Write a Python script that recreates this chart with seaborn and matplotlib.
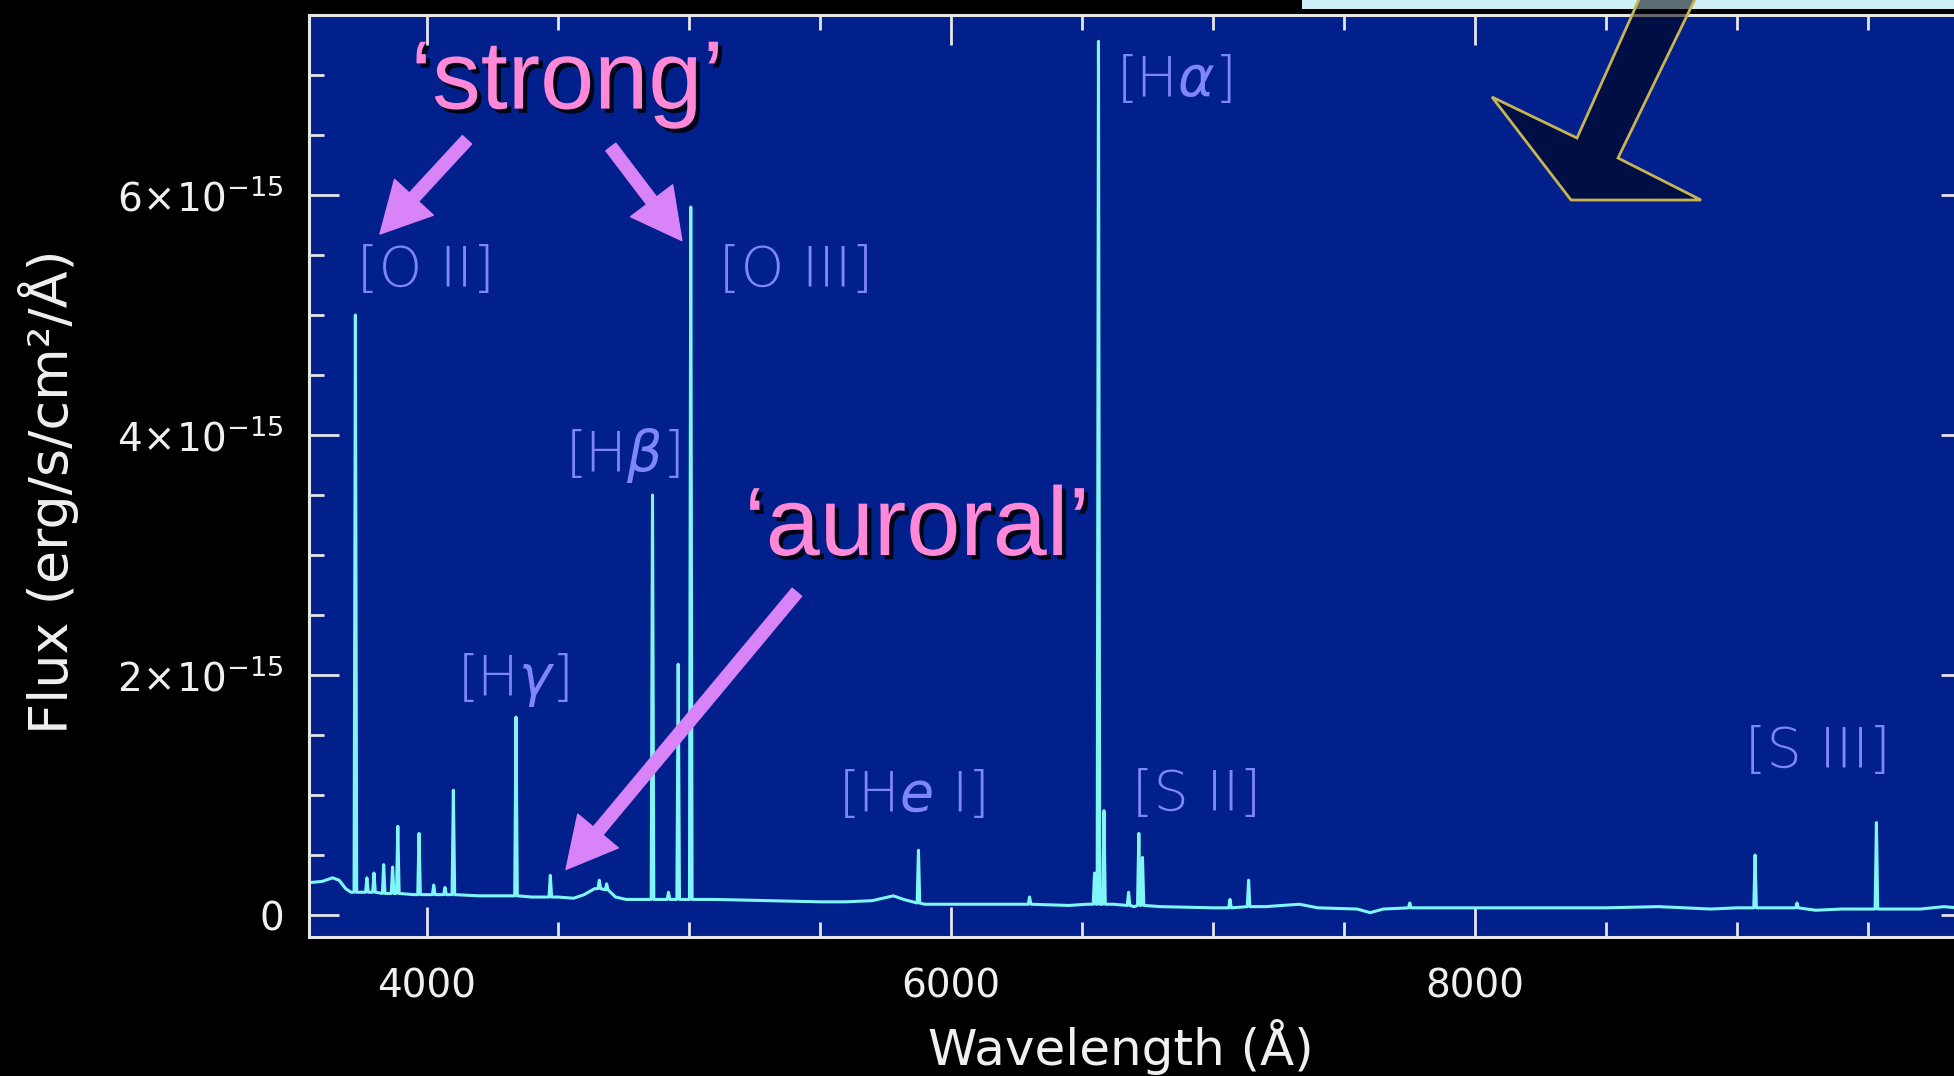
import matplotlib
matplotlib.use("Agg")
import matplotlib.pyplot as plt
import matplotlib.patheffects as pe
from matplotlib.patches import Polygon, Rectangle
from matplotlib.ticker import MultipleLocator, FixedLocator, FixedFormatter
import pandas as pd
import seaborn as sns

# ---------------- data (flux in units of 1e-15 erg/s/cm2/Å) ----------------
cont_wave = [3550, 3600, 3640, 3665, 3690, 3710, 3760, 3850, 3950, 4050, 4200, 4300,
             4400, 4500, 4560, 4600, 4640, 4680, 4720, 4760, 4850, 4950, 5100, 5300,
             5500, 5600, 5700, 5780, 5820, 5900, 6000, 6200, 6450, 6520, 6620, 6700,
             6800, 7000, 7200, 7330, 7400, 7550, 7600, 7650, 7900, 8200, 8500, 8700,
             8900, 9000, 9150, 9300, 9400, 9700, 9790, 9893]
cont_flux = [0.27, 0.28, 0.31, 0.29, 0.22, 0.19, 0.19, 0.18, 0.17, 0.17, 0.16, 0.16,
             0.15, 0.15, 0.14, 0.17, 0.22, 0.21, 0.15, 0.13, 0.13, 0.13, 0.13, 0.12,
             0.11, 0.11, 0.12, 0.16, 0.13, 0.09, 0.09, 0.09, 0.08, 0.09, 0.09, 0.07,
             0.07, 0.06, 0.07, 0.09, 0.06, 0.05, 0.02, 0.05, 0.06, 0.06, 0.06, 0.07,
             0.05, 0.06, 0.06, 0.04, 0.05, 0.05, 0.07, 0.05]

line_wave = [3727, 3771, 3798, 3835, 3869, 3889, 3970, 4026, 4069, 4101, 4340, 4471,
             4658, 4686, 4861, 4922, 4959, 5007, 5876, 6300, 6548, 6563, 6584, 6678,
             6717, 6731, 7065, 7136, 7751, 9069, 9229, 9532]
line_peak = [5.00, 0.31, 0.35, 0.42, 0.40, 0.74, 0.68, 0.25, 0.23, 1.04, 1.65, 0.33,
             0.29, 0.26, 3.50, 0.19, 2.09, 5.90, 0.54, 0.15, 0.35, 7.28, 0.87, 0.19,
             0.68, 0.48, 0.13, 0.29, 0.10, 0.50, 0.10, 0.77]
line_base = [0.19, 0.19, 0.19, 0.18, 0.18, 0.18, 0.17, 0.17, 0.17, 0.17, 0.16, 0.15,
             0.22, 0.21, 0.13, 0.13, 0.13, 0.13, 0.10, 0.09, 0.09, 0.09, 0.09, 0.08,
             0.08, 0.08, 0.06, 0.07, 0.06, 0.06, 0.06, 0.05]

label_text = ["[O II]", "[O III]", r"[H$\beta$]", r"[H$\gamma$]", r"[H$e$ I]",
              "[S II]", "[S III]", r"[H$\alpha$]"]
label_wave = [3996, 5408, 4744, 4328, 5851, 6939, 9309, 6851]
label_flux = [5.37, 5.37, 3.83, 1.96, 0.99, 1.00, 1.36, 6.95]

xtick_vals = [4000, 6000, 8000]
ytick_vals = [0, 2, 4, 6]
ytick_labels = ["0", r"$2\!\times\!10^{-15}$", r"$4\!\times\!10^{-15}$", r"$6\!\times\!10^{-15}$"]

HW = 5  # half width (Å) of each drawn emission spike

rows_w = list(cont_wave)
rows_f = list(cont_flux)
for w, p, b in zip(line_wave, line_peak, line_base):
    rows_w += [w - HW, w, w + HW]
    rows_f += [b, p, b]
spec = pd.DataFrame({"wavelength": rows_w, "flux": rows_f}).sort_values("wavelength")

# ---------------- style ----------------
sns.set_theme(style="ticks")
plt.rcParams["font.family"] = ["DejaVu Sans"]
plt.rcParams["mathtext.fontset"] = "dejavusans"

W, H = 1954, 1076
fig = plt.figure(figsize=(W / 100, H / 100), dpi=100, facecolor="black")
ax = fig.add_axes([309 / W, (H - 937) / H, (1971 - 309) / W, (937 - 15) / H])
ax.set_facecolor("#01208C")

sns.lineplot(data=spec, x="wavelength", y="flux", ax=ax, color="#80F6F6",
             linewidth=2.2, estimator=None, sort=True)

ax.set_xlim(3550, 9893)
ax.set_ylim(-0.183, 7.5)

ax.xaxis.set_major_locator(FixedLocator(xtick_vals))
ax.xaxis.set_minor_locator(MultipleLocator(500))
ax.yaxis.set_major_locator(FixedLocator(ytick_vals))
ax.yaxis.set_major_formatter(FixedFormatter(ytick_labels))
ax.yaxis.set_minor_locator(MultipleLocator(0.5))

tick_col = "#E6E6E6"
ax.tick_params(which="major", direction="in", length=21.6, width=2.0, color=tick_col,
               top=True, right=True, labelsize=28, labelcolor="#F0F0F0")
ax.tick_params(which="minor", direction="in", length=10.8, width=2.0, color=tick_col,
               top=True, right=True)
ax.tick_params(axis="x", which="major", pad=22)
ax.tick_params(axis="y", which="major", pad=18)
for s in ax.spines.values():
    s.set_color(tick_col)
    s.set_linewidth(2.2)
ax.grid(False)

ax.set_xlabel("Wavelength (Å)", fontsize=36, color="#F0F0F0")
ax.set_ylabel("Flux (erg/s/cm²/Å)", fontsize=39, color="#F0F0F0")
ax.xaxis.set_label_coords(0.4886, -0.119)
ax.xaxis.label.set_verticalalignment("center")
ax.yaxis.set_label_coords(-0.157, 0.483)
ax.yaxis.label.set_verticalalignment("center")

# line labels
for t, x, y in zip(label_text, label_wave, label_flux):
    ax.text(x, y, t, color="#7F86F6", fontsize=40, fontweight="light",
            ha="center", va="center", zorder=4)

# pink annotations
shadow = [pe.withSimplePatchShadow(offset=(3, -3), shadow_rgbFace="black", alpha=0.85)]
ax.text(4536, 6.72, "\u2018strong\u2019", color="#FF89D6", fontsize=70,
        family="Liberation Sans", ha="center", va="baseline", path_effects=shadow, zorder=6)
ax.text(5871, 3.00, "\u2018auroral\u2019", color="#FF89D6", fontsize=70,
        family="Liberation Sans", ha="center", va="baseline", path_effects=shadow, zorder=6)

arrow_style = "simple,head_length=1.8,head_width=1.9,tail_width=0.45"
for tail, tip in [((4153, 6.46), (3821, 5.675)),
                  ((4702, 6.40), (4973, 5.62)),
                  ((5412, 2.69), (4531, 0.38))]:
    ax.annotate("", xy=tip, xytext=tail,
                arrowprops=dict(arrowstyle=arrow_style, mutation_scale=20,
                                color="#D883F8", shrinkA=0, shrinkB=0), zorder=6)

# decorative pieces from the slide: image strip at top and outlined arrow
fig.add_artist(Rectangle((1302 / W, (H - 9) / H), (W - 1302) / W, 9 / H,
                         transform=fig.transFigure, facecolor="#CDEFF5",
                         edgecolor="none", zorder=3))
pts = [(1641, -5), (1577, 138), (1492, 97), (1571, 200), (1701, 200), (1618, 158), (1697, -5)]
fig.add_artist(Polygon([(x / W, (H - y) / H) for x, y in pts], closed=True,
                       transform=fig.transFigure, facecolor=(0, 0, 0.05, 0.55),
                       edgecolor="#C8B450", linewidth=2, zorder=7))

fig.savefig("out.png", dpi=100, facecolor="black")
